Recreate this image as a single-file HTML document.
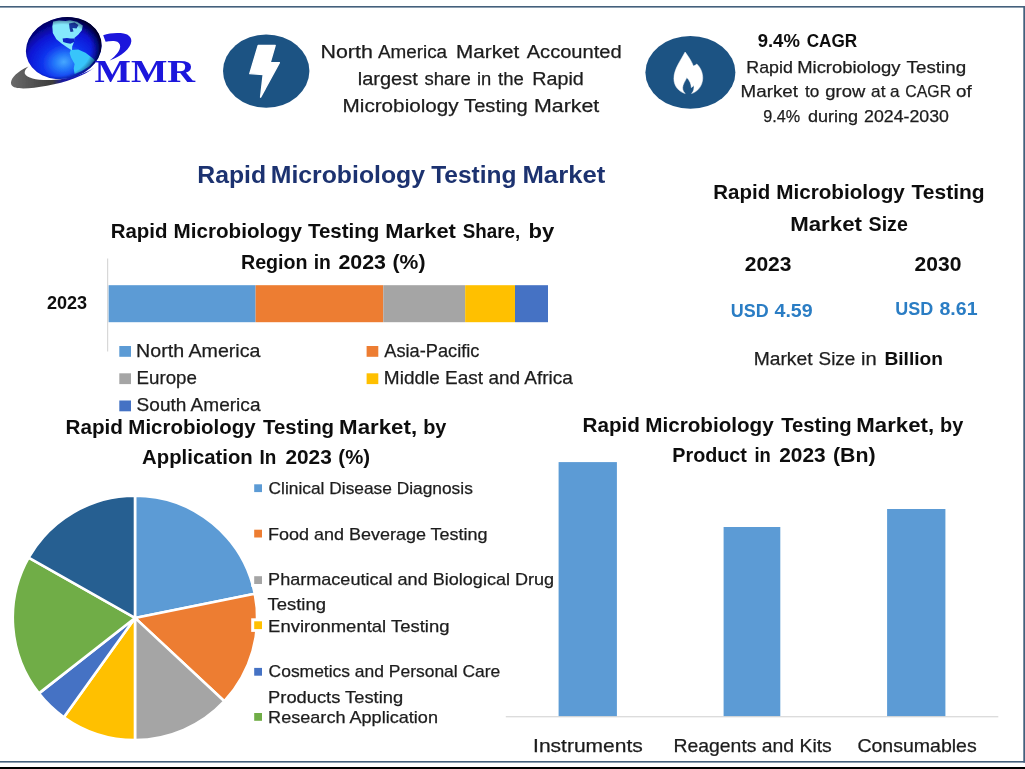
<!DOCTYPE html>
<html>
<head>
<meta charset="utf-8">
<title>Rapid Microbiology Testing Market</title>
<style>
html,body{margin:0;padding:0;background:#ffffff;}
body{width:1025px;height:769px;overflow:hidden;position:relative;font-family:"Liberation Sans",sans-serif;}
svg{position:absolute;left:0;top:0;display:block;}
text{font-family:"Liberation Sans",sans-serif;fill:#1c1c1c;stroke:#1c1c1c;stroke-width:0.25px;}
.b{font-weight:bold;fill:#0d0d0d;stroke:none;}
.serif{font-family:"Liberation Serif",serif;font-weight:bold;stroke:none;}
</style>
</head>
<body>
<svg width="1025" height="769" viewBox="0 0 1025 769">
<defs>
<radialGradient id="gl" cx="0.46" cy="0.72" r="0.62">
<stop offset="0" stop-color="#46a8ff"/>
<stop offset="0.2" stop-color="#2478fa"/>
<stop offset="0.45" stop-color="#1034ee"/>
<stop offset="0.75" stop-color="#0a16d6"/>
<stop offset="1" stop-color="#06068e"/>
</radialGradient>
<linearGradient id="sw" x1="0" y1="0" x2="1" y2="0">
<stop offset="0" stop-color="#6a6a6a"/>
<stop offset="0.5" stop-color="#3c3c3c"/>
<stop offset="0.62" stop-color="#1a1aa0"/>
<stop offset="1" stop-color="#1212c8"/>
</linearGradient>
<radialGradient id="rim" cx="0.44" cy="0.52" r="0.56">
<stop offset="0.74" stop-color="#000030" stop-opacity="0"/>
<stop offset="0.9" stop-color="#000028" stop-opacity="0.5"/>
<stop offset="1" stop-color="#000010" stop-opacity="0.95"/>
</radialGradient>
<filter id="soft" x="0" y="0" width="1025" height="769" filterUnits="userSpaceOnUse"><feGaussianBlur stdDeviation="0.45"/></filter>
</defs>
<rect x="0" y="0" width="1025" height="769" fill="#ffffff"/>
<!-- frame -->
<g id="frame">
<rect x="0" y="6" width="1025" height="1.6" fill="#44607c"/>
<rect x="1023.3" y="6" width="1.7" height="756.6" fill="#44607c"/>
<rect x="0" y="761" width="1025" height="1.6" fill="#44607c"/>
<rect x="0" y="767" width="1025" height="2" fill="#000000"/>
</g>

<g id="content" filter="url(#soft)">
<!-- LOGO -->
<g id="logo">
<path d="M28.5 66.5 C16 72 9 80 11.5 85 C14 90 30 88.8 47 85.8 C66 82.3 84 76 94.5 67.5 C86 73.5 70 78.5 55 79.8 C40 81 27 78.5 25 74 C24 71.5 25.5 68.8 28.5 66.5 Z" fill="url(#sw)"/>
<ellipse cx="63.8" cy="48.1" rx="38.2" ry="30.6" transform="rotate(-12.7 63.8 48.1)" fill="url(#gl)"/>
<clipPath id="gc"><ellipse cx="63.8" cy="48.1" rx="38.2" ry="30.6" transform="rotate(-12.7 63.8 48.1)"/></clipPath>
<g clip-path="url(#gc)">
<path d="M53.2 21.6 L59 20.6 L65.5 21 L70 20.2 L77 21.8 L82.8 25.6 L81.9 30.2 L78.2 34.7 L74.6 37.8 L73.8 42.5 L72.2 46.5 L72 50.4 L67.3 47.5 L61.9 43.8 L56.4 39.3 L52.8 32.9 L52.3 26.6 Z" fill="#84e8fc"/>
<path d="M69 23.5 L74.5 22.5 L78.5 25 L76.5 28.5 L72.5 28 L73.5 31.5 L70.5 32 L69.5 28 Z" fill="#17389f"/>
<path d="M62.6 38.6 L67 38 L70.5 38.6 L74.6 38.4 L74 42 L70.5 43.8 L66.5 43 L63.2 42 Z" fill="#0a22c4"/>
<path d="M70.8 50 L78.2 49.6 L85.5 52.8 L92.8 58.2 L94.8 60.2 L89.2 66.6 L81.9 71.1 L74.6 74 L73.7 68.4 L74.6 63.9 L71 57.5 L69.6 52.9 Z" fill="#38c4fa"/>
<ellipse cx="63.8" cy="48.1" rx="38.2" ry="30.6" transform="rotate(-12.7 63.8 48.1)" fill="url(#rim)"/>
</g>
<path d="M103.2 35.2 C109 33.2 117 32.6 123.6 33.5 C129 34.5 131.6 37.5 131.3 41.5 C130.6 48.5 121.5 56 109.6 60.6 C116 55.8 120.2 50.5 120.2 46.5 C120.2 43.5 118.2 41.6 115.4 41.2 C112 40.8 108.5 41.2 105.6 41.8 Z" fill="#1a14dc"/>
<text x="94.6" y="81.8" font-size="32.4" textLength="100.6" lengthAdjust="spacingAndGlyphs" class="serif" style="fill:#1a14dc">MMR</text>
</g>

<!-- ICONS -->
<g id="icons">
<ellipse cx="266.2" cy="71.1" rx="43.2" ry="36.6" fill="#1e5383"/>
<path d="M258.2 45.4 L275.2 45.4 L270.2 62.6 L279.4 62.6 L260.6 97.2 L263.2 74.6 L249.8 73.6 Z" fill="#ffffff" stroke="#ffffff" stroke-width="1.4" stroke-linejoin="round"/>
<ellipse cx="690.4" cy="72.4" rx="45" ry="36.4" fill="#1e5383"/>
<path d="M685.1 52 C686.6 54.2 691.6 60.6 693.3 66.1 C694.5 65.7 695.8 65 696.8 64 C700.6 67.6 702.9 73 702.7 78.6 C702.4 85.6 698 91.6 691.6 93.5 C693.6 91.5 694.5 88.5 693.7 85 C693.1 86.3 692.2 87.2 691.3 87.6 C691.3 84 689.6 80.5 686.8 77.5 C685.4 81 682.6 84.2 682.6 87.8 C682.6 90.2 683.6 92 685.2 93.5 C678.6 91.7 673.9 86 673.9 78.6 C673.9 69 681 60 685.1 52 Z" fill="#ffffff" stroke="#ffffff" stroke-width="0.5" stroke-linejoin="round"/>
</g>

<!-- TOP TEXT -->
<g id="toptext">
</g>

<!-- REGION CHART -->
<g id="region">
<rect x="107.1" y="258.5" width="1.1" height="93" fill="#d4d4d4"/>
<rect x="108.6" y="285.2" width="147.0" height="37" fill="#5b9bd5"/>
<rect x="255.6" y="285.2" width="127.7" height="37" fill="#ed7d31"/>
<rect x="383.3" y="285.2" width="81.9" height="37" fill="#a5a5a5"/>
<rect x="465.2" y="285.2" width="49.8" height="37" fill="#ffc000"/>
<rect x="515" y="285.2" width="33.0" height="37" fill="#4472c4"/>
<rect x="119.3" y="346" width="11.7" height="10.8" fill="#5b9bd5"/>
<rect x="119.3" y="373.3" width="11.7" height="10.8" fill="#a5a5a5"/>
<rect x="119.3" y="400.5" width="11.7" height="10.8" fill="#4472c4"/>
<rect x="366.6" y="346" width="11.7" height="10.8" fill="#ed7d31"/>
<rect x="366.6" y="373.3" width="11.7" height="10.8" fill="#ffc000"/>
</g>

<!-- MARKET SIZE -->
<g id="msize">
</g>

<!-- PIE -->
<g id="pie">
<path d="M135.0 617.9 L135.00 495.70 A122.2 122.2 0 0 1 254.79 593.75 Z" fill="#5b9bd5" stroke="#ffffff" stroke-width="2.6" stroke-linejoin="round"/>
<path d="M135.0 617.9 L254.79 593.75 A122.2 122.2 0 0 1 224.37 701.24 Z" fill="#ed7d31" stroke="#ffffff" stroke-width="2.6" stroke-linejoin="round"/>
<path d="M135.0 617.9 L224.37 701.24 A122.2 122.2 0 0 1 135.00 740.10 Z" fill="#a5a5a5" stroke="#ffffff" stroke-width="2.6" stroke-linejoin="round"/>
<path d="M135.0 617.9 L135.00 740.10 A122.2 122.2 0 0 1 63.86 717.26 Z" fill="#ffc000" stroke="#ffffff" stroke-width="2.6" stroke-linejoin="round"/>
<path d="M135.0 617.9 L63.86 717.26 A122.2 122.2 0 0 1 38.90 693.39 Z" fill="#4472c4" stroke="#ffffff" stroke-width="2.6" stroke-linejoin="round"/>
<path d="M135.0 617.9 L38.90 693.39 A122.2 122.2 0 0 1 28.64 557.73 Z" fill="#70ad47" stroke="#ffffff" stroke-width="2.6" stroke-linejoin="round"/>
<path d="M135.0 617.9 L28.64 557.73 A122.2 122.2 0 0 1 135.00 495.70 Z" fill="#255e91" stroke="#ffffff" stroke-width="2.6" stroke-linejoin="round"/>
<rect x="251.2" y="481.3" width="13.6" height="13.6" fill="#ffffff"/>
<rect x="254.2" y="484.3" width="7.8" height="7.8" fill="#5b9bd5"/>
<rect x="251.2" y="526.7" width="13.6" height="13.6" fill="#ffffff"/>
<rect x="254.2" y="529.7" width="7.8" height="7.8" fill="#ed7d31"/>
<rect x="251.2" y="573.2" width="13.6" height="13.6" fill="#ffffff"/>
<rect x="254.2" y="576.2" width="7.8" height="7.8" fill="#a5a5a5"/>
<rect x="251.2" y="618.3" width="13.6" height="13.6" fill="#ffffff"/>
<rect x="254.2" y="621.3" width="7.8" height="7.8" fill="#ffc000"/>
<rect x="251.2" y="664.9" width="13.6" height="13.6" fill="#ffffff"/>
<rect x="254.2" y="667.9" width="7.8" height="7.8" fill="#4472c4"/>
<rect x="251.2" y="710.0" width="13.6" height="13.6" fill="#ffffff"/>
<rect x="254.2" y="713" width="7.8" height="7.8" fill="#70ad47"/>
</g>

<!-- BAR -->
<g id="bars">
<rect x="558.6" y="462.1" width="58.3" height="254.3" fill="#5b9bd5"/>
<rect x="723.6" y="527.0" width="56.7" height="189.4" fill="#5b9bd5"/>
<rect x="887.1" y="509.0" width="58.3" height="207.4" fill="#5b9bd5"/>
<rect x="505.8" y="716.2" width="492.5" height="1.1" fill="#d4d4d4"/>
</g>
<g id="alltext">
<text x="320.51" y="58.0" font-size="18" textLength="52.29" lengthAdjust="spacingAndGlyphs">North</text>
<text x="377.90" y="58.0" font-size="18" textLength="69.16" lengthAdjust="spacingAndGlyphs">America</text>
<text x="456.05" y="58.0" font-size="18" textLength="63.15" lengthAdjust="spacingAndGlyphs">Market</text>
<text x="526.70" y="58.0" font-size="18" textLength="94.93" lengthAdjust="spacingAndGlyphs">Accounted</text>
<text x="357.79" y="84.9" font-size="18" textLength="60.01" lengthAdjust="spacingAndGlyphs">largest</text>
<text x="424.50" y="84.9" font-size="18" textLength="46.31" lengthAdjust="spacingAndGlyphs">share</text>
<text x="476.92" y="84.9" font-size="18" textLength="14.27" lengthAdjust="spacingAndGlyphs">in</text>
<text x="498.00" y="84.9" font-size="18" textLength="25.71" lengthAdjust="spacingAndGlyphs">the</text>
<text x="532.30" y="84.9" font-size="18" textLength="51.50" lengthAdjust="spacingAndGlyphs">Rapid</text>
<text x="342.55" y="112.0" font-size="18" textLength="116.15" lengthAdjust="spacingAndGlyphs">Microbiology</text>
<text x="464.10" y="112.0" font-size="18" textLength="63.73" lengthAdjust="spacingAndGlyphs">Testing</text>
<text x="534.01" y="112.0" font-size="18" textLength="65.29" lengthAdjust="spacingAndGlyphs">Market</text>
<text x="757.70" y="46.7" font-size="18.4" textLength="42.15" lengthAdjust="spacingAndGlyphs" class="b">9.4%</text>
<text x="806.70" y="46.7" font-size="18.4" textLength="50.46" lengthAdjust="spacingAndGlyphs" class="b">CAGR</text>
<text x="746.35" y="72.8" font-size="17" textLength="46.52" lengthAdjust="spacingAndGlyphs">Rapid</text>
<text x="797.22" y="72.8" font-size="17" textLength="103.34" lengthAdjust="spacingAndGlyphs">Microbiology</text>
<text x="906.60" y="72.8" font-size="17" textLength="59.50" lengthAdjust="spacingAndGlyphs">Testing</text>
<text x="740.60" y="96.9" font-size="17" textLength="57.40" lengthAdjust="spacingAndGlyphs">Market</text>
<text x="804.94" y="96.9" font-size="17" textLength="14.28" lengthAdjust="spacingAndGlyphs">to</text>
<text x="825.30" y="96.9" font-size="17" textLength="39.92" lengthAdjust="spacingAndGlyphs">grow</text>
<text x="871.12" y="96.9" font-size="17" textLength="14.28" lengthAdjust="spacingAndGlyphs">at</text>
<text x="890.11" y="96.9" font-size="17" textLength="9.53" lengthAdjust="spacingAndGlyphs">a</text>
<text x="905.35" y="96.9" font-size="17" textLength="45.76" lengthAdjust="spacingAndGlyphs">CAGR</text>
<text x="956.10" y="96.9" font-size="17" textLength="15.69" lengthAdjust="spacingAndGlyphs">of</text>
<text x="763.20" y="121.8" font-size="17" textLength="36.91" lengthAdjust="spacingAndGlyphs">9.4%</text>
<text x="807.90" y="121.8" font-size="17" textLength="50.18" lengthAdjust="spacingAndGlyphs">during</text>
<text x="864.10" y="121.8" font-size="17" textLength="84.77" lengthAdjust="spacingAndGlyphs">2024-2030</text>
<text x="197.35" y="182.9" font-size="23.5" textLength="68.78" lengthAdjust="spacingAndGlyphs" class="b" style="fill:#1c3370">Rapid</text>
<text x="270.75" y="182.9" font-size="23.5" textLength="154.23" lengthAdjust="spacingAndGlyphs" class="b" style="fill:#1c3370">Microbiology</text>
<text x="431.20" y="182.9" font-size="23.5" textLength="85.31" lengthAdjust="spacingAndGlyphs" class="b" style="fill:#1c3370">Testing</text>
<text x="522.41" y="182.9" font-size="23.5" textLength="82.90" lengthAdjust="spacingAndGlyphs" class="b" style="fill:#1c3370">Market</text>
<text x="110.71" y="237.9" font-size="20.6" textLength="56.77" lengthAdjust="spacingAndGlyphs" class="b">Rapid</text>
<text x="173.60" y="237.9" font-size="20.6" textLength="128.35" lengthAdjust="spacingAndGlyphs" class="b">Microbiology</text>
<text x="307.90" y="237.9" font-size="20.6" textLength="71.48" lengthAdjust="spacingAndGlyphs" class="b">Testing</text>
<text x="385.34" y="237.9" font-size="20.6" textLength="70.51" lengthAdjust="spacingAndGlyphs" class="b">Market</text>
<text x="462.70" y="237.9" font-size="20.6" textLength="57.46" lengthAdjust="spacingAndGlyphs" class="b">Share,</text>
<text x="528.44" y="237.9" font-size="20.6" textLength="25.76" lengthAdjust="spacingAndGlyphs" class="b">by</text>
<text x="240.95" y="269.0" font-size="20.6" textLength="66.61" lengthAdjust="spacingAndGlyphs" class="b">Region</text>
<text x="313.66" y="269.0" font-size="20.6" textLength="17.18" lengthAdjust="spacingAndGlyphs" class="b">in</text>
<text x="338.40" y="269.0" font-size="20.6" textLength="47.57" lengthAdjust="spacingAndGlyphs" class="b">2023</text>
<text x="392.57" y="269.0" font-size="20.6" textLength="32.91" lengthAdjust="spacingAndGlyphs" class="b">(%)</text>
<text x="46.90" y="309.4" font-size="18.2" textLength="40.21" lengthAdjust="spacingAndGlyphs" class="b">2023</text>
<text x="136.13" y="356.8" font-size="18.2" textLength="124.32" lengthAdjust="spacingAndGlyphs">North America</text>
<text x="136.57" y="384.0" font-size="18.2" textLength="60.35" lengthAdjust="spacingAndGlyphs">Europe</text>
<text x="136.60" y="411.0" font-size="18.2" textLength="123.88" lengthAdjust="spacingAndGlyphs">South America</text>
<text x="384.30" y="356.8" font-size="18.2" textLength="95.09" lengthAdjust="spacingAndGlyphs">Asia-Pacific</text>
<text x="383.86" y="384.0" font-size="18.2" textLength="189.02" lengthAdjust="spacingAndGlyphs">Middle East and Africa</text>
<text x="713.32" y="199.2" font-size="20.8" textLength="56.88" lengthAdjust="spacingAndGlyphs" class="b">Rapid</text>
<text x="776.21" y="199.2" font-size="20.8" textLength="128.66" lengthAdjust="spacingAndGlyphs" class="b">Microbiology</text>
<text x="911.60" y="199.2" font-size="20.8" textLength="73.01" lengthAdjust="spacingAndGlyphs" class="b">Testing</text>
<text x="790.23" y="231.0" font-size="20.8" textLength="71.69" lengthAdjust="spacingAndGlyphs" class="b">Market</text>
<text x="868.60" y="231.0" font-size="20.8" textLength="39.23" lengthAdjust="spacingAndGlyphs" class="b">Size</text>
<text x="744.70" y="270.5" font-size="19.5" textLength="46.83" lengthAdjust="spacingAndGlyphs" class="b">2023</text>
<text x="914.60" y="270.5" font-size="19.5" textLength="46.83" lengthAdjust="spacingAndGlyphs" class="b">2030</text>
<text x="730.82" y="316.6" font-size="18.2" textLength="37.82" lengthAdjust="spacingAndGlyphs" class="b" style="fill:#2b7dc4">USD</text>
<text x="774.50" y="316.6" font-size="18.2" textLength="38.22" lengthAdjust="spacingAndGlyphs" class="b" style="fill:#2b7dc4">4.59</text>
<text x="895.21" y="314.6" font-size="18.2" textLength="37.92" lengthAdjust="spacingAndGlyphs" class="b" style="fill:#2b7dc4">USD</text>
<text x="939.50" y="314.6" font-size="18.2" textLength="38.02" lengthAdjust="spacingAndGlyphs" class="b" style="fill:#2b7dc4">8.61</text>
<text x="753.74" y="365.3" font-size="18.2" textLength="58.81" lengthAdjust="spacingAndGlyphs">Market</text>
<text x="818.60" y="365.3" font-size="18.2" textLength="36.72" lengthAdjust="spacingAndGlyphs">Size</text>
<text x="861.10" y="365.3" font-size="18.2" textLength="15.64" lengthAdjust="spacingAndGlyphs">in</text>
<text x="884.45" y="365.3" font-size="18.2" textLength="58.52" lengthAdjust="spacingAndGlyphs" class="b">Billion</text>
<text x="65.57" y="434.3" font-size="20" textLength="57.39" lengthAdjust="spacingAndGlyphs" class="b">Rapid</text>
<text x="128.38" y="434.3" font-size="20" textLength="127.23" lengthAdjust="spacingAndGlyphs" class="b">Microbiology</text>
<text x="263.10" y="434.3" font-size="20" textLength="70.94" lengthAdjust="spacingAndGlyphs" class="b">Testing</text>
<text x="339.09" y="434.3" font-size="20" textLength="78.03" lengthAdjust="spacingAndGlyphs" class="b">Market,</text>
<text x="423.21" y="434.3" font-size="20" textLength="23.22" lengthAdjust="spacingAndGlyphs" class="b">by</text>
<text x="142.10" y="464.4" font-size="20" textLength="110.64" lengthAdjust="spacingAndGlyphs" class="b">Application</text>
<text x="259.40" y="464.4" font-size="20" textLength="16.79" lengthAdjust="spacingAndGlyphs" class="b">In</text>
<text x="285.40" y="464.4" font-size="20" textLength="46.43" lengthAdjust="spacingAndGlyphs" class="b">2023</text>
<text x="338.38" y="464.4" font-size="20" textLength="31.69" lengthAdjust="spacingAndGlyphs" class="b">(%)</text>
<text x="268.60" y="494.1" font-size="16.6" textLength="204.21" lengthAdjust="spacingAndGlyphs">Clinical Disease Diagnosis</text>
<text x="268.12" y="540.2" font-size="16.6" textLength="219.43" lengthAdjust="spacingAndGlyphs">Food and Beverage Testing</text>
<text x="268.11" y="585.3" font-size="16.6" textLength="286.04" lengthAdjust="spacingAndGlyphs">Pharmaceutical and Biological Drug</text>
<text x="267.40" y="610.3" font-size="16.6" textLength="58.66" lengthAdjust="spacingAndGlyphs">Testing</text>
<text x="268.09" y="631.9" font-size="16.6" textLength="181.47" lengthAdjust="spacingAndGlyphs">Environmental Testing</text>
<text x="268.60" y="676.9" font-size="16.6" textLength="231.74" lengthAdjust="spacingAndGlyphs">Cosmetics and Personal Care</text>
<text x="268.10" y="702.7" font-size="16.6" textLength="135.05" lengthAdjust="spacingAndGlyphs">Products Testing</text>
<text x="268.12" y="723.0" font-size="16.6" textLength="169.83" lengthAdjust="spacingAndGlyphs">Research Application</text>
<text x="582.47" y="432.3" font-size="20" textLength="57.39" lengthAdjust="spacingAndGlyphs" class="b">Rapid</text>
<text x="645.27" y="432.3" font-size="20" textLength="128.43" lengthAdjust="spacingAndGlyphs" class="b">Microbiology</text>
<text x="781.20" y="432.3" font-size="20" textLength="70.53" lengthAdjust="spacingAndGlyphs" class="b">Testing</text>
<text x="856.39" y="432.3" font-size="20" textLength="77.73" lengthAdjust="spacingAndGlyphs" class="b">Market,</text>
<text x="940.11" y="432.3" font-size="20" textLength="23.22" lengthAdjust="spacingAndGlyphs" class="b">by</text>
<text x="672.31" y="461.9" font-size="20" textLength="74.65" lengthAdjust="spacingAndGlyphs" class="b">Product</text>
<text x="754.38" y="461.9" font-size="20" textLength="16.34" lengthAdjust="spacingAndGlyphs" class="b">in</text>
<text x="779.20" y="461.9" font-size="20" textLength="46.43" lengthAdjust="spacingAndGlyphs" class="b">2023</text>
<text x="832.94" y="461.9" font-size="20" textLength="42.57" lengthAdjust="spacingAndGlyphs" class="b">(Bn)</text>
<text x="533.07" y="751.6" font-size="18.6" textLength="109.66" lengthAdjust="spacingAndGlyphs">Instruments</text>
<text x="673.56" y="751.6" font-size="18.6" textLength="158.25" lengthAdjust="spacingAndGlyphs">Reagents and Kits</text>
<text x="857.40" y="751.6" font-size="18.6" textLength="119.31" lengthAdjust="spacingAndGlyphs">Consumables</text>
</g>
</g>
</svg>
</body>
</html>
